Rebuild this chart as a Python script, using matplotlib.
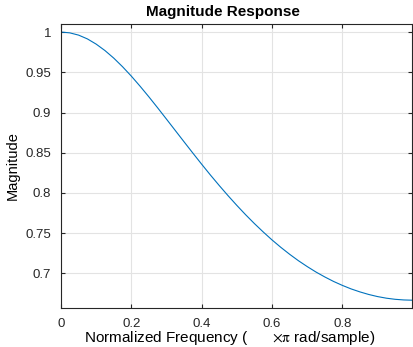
import matplotlib.pyplot as plt
from matplotlib.ticker import FuncFormatter

# Normalized frequency (x pi rad/sample) and magnitude
freq = [0.0, 0.025, 0.05, 0.075, 0.1, 0.125, 0.15, 0.175, 0.2, 0.225, 0.25,
        0.275, 0.3, 0.325, 0.35, 0.375, 0.4, 0.425, 0.45, 0.475, 0.5,
        0.525, 0.55, 0.575, 0.6, 0.625, 0.65, 0.675, 0.7, 0.725, 0.75,
        0.775, 0.8, 0.825, 0.85, 0.875, 0.9, 0.925, 0.95, 0.975, 0.998]
mag = [1.0, 0.9990, 0.9962, 0.9915, 0.9850, 0.9770, 0.9676, 0.9569, 0.9452, 0.9326, 0.9194,
       0.9057, 0.8917, 0.8776, 0.8635, 0.8495, 0.8357, 0.8222, 0.8092, 0.7966, 0.7845,
       0.7729, 0.7619, 0.7515, 0.7416, 0.7324, 0.7238, 0.7158, 0.7085, 0.7017, 0.6956,
       0.6900, 0.6851, 0.6807, 0.6770, 0.6738, 0.6712, 0.6692, 0.6678, 0.6670, 0.6667]

xticks = [0, 0.2, 0.4, 0.6, 0.8]
yticks = [0.7, 0.75, 0.8, 0.85, 0.9, 0.95, 1.0]

plt.rcParams['font.family'] = ['Liberation Sans', 'DejaVu Sans']
plt.rcParams['mathtext.fontset'] = 'stix'

fig = plt.figure(figsize=(4.13, 3.47), dpi=100)
ax = fig.add_axes([0.1477, 0.1124, 0.8499, 0.8184])

ax.plot(freq, mag, color='#0072BD', linewidth=0.8)

ax.set_xlim(0, 0.998)
ax.set_ylim(0.657, 1.01)
ax.set_xticks(xticks)
ax.set_yticks(yticks)
fmt = FuncFormatter(lambda v, p: '%g' % round(v, 3))
ax.xaxis.set_major_formatter(fmt)
ax.yaxis.set_major_formatter(fmt)

ax.grid(True, color='#e3e3e3', linewidth=0.8)
ax.set_axisbelow(True)
ax.tick_params(direction='in', length=3, width=0.8, colors='#262626',
               labelsize=9.5, top=True, right=True, pad=7)
for s in ax.spines.values():
    s.set_color('#262626')
    s.set_linewidth(0.8)

ax.set_title('Magnitude Response', fontsize=11, fontweight='bold', pad=6, x=0.4615)
ax.set_xlabel('Normalized Frequency (      $\\times\\mathrm{\\pi}$ rad/sample)', fontsize=11)
ax.xaxis.set_label_coords(0.48, -0.075)
ax.set_ylabel('Magnitude', fontsize=10.5, labelpad=4)

fig.savefig('out.png', dpi=100)
